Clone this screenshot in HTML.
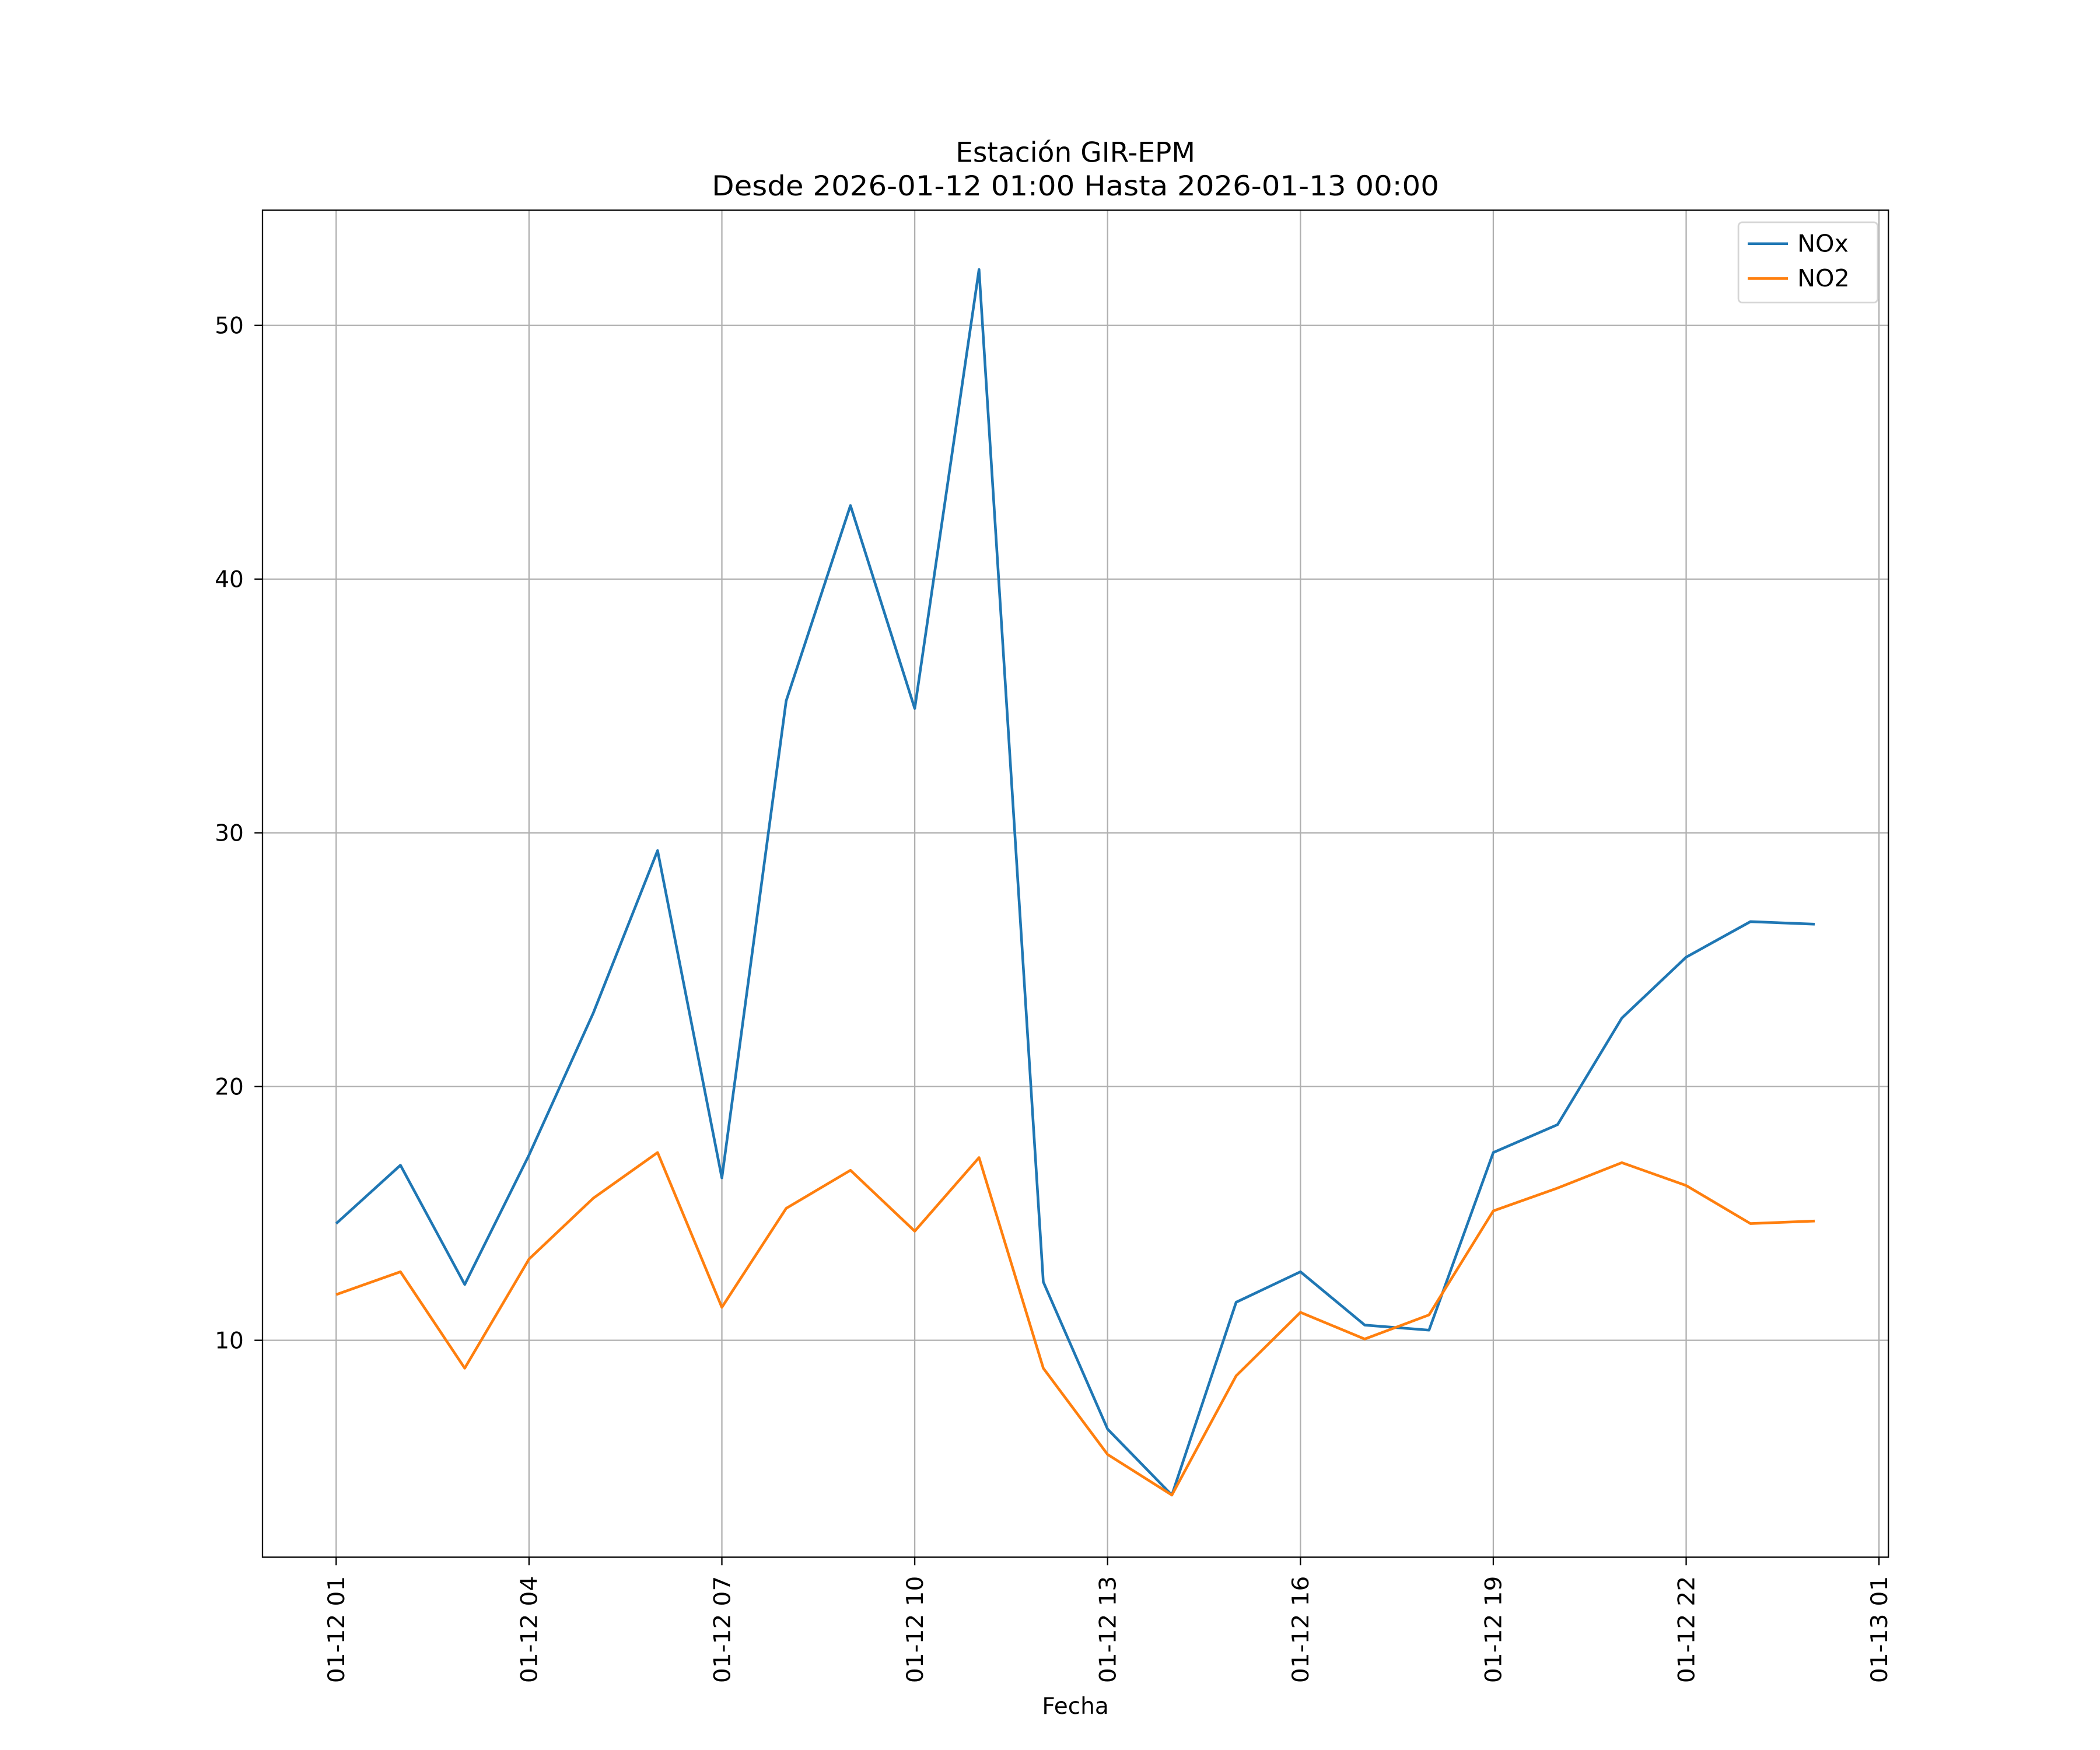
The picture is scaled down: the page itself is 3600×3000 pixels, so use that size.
<!DOCTYPE html>
<html><head><meta charset="utf-8"><style>
html,body{margin:0;padding:0;background:#fff}
svg{display:block}
text{font-family:"DejaVu Sans","Liberation Sans",sans-serif;fill:#000}
</style></head><body>
<svg id="chart" width="3600" height="3000" viewBox="0 0 1568 1307" preserveAspectRatio="none" xmlns="http://www.w3.org/2000/svg">
<rect width="1568" height="1307" fill="#fff"/>
<g id="grid"></g>
<g id="lines"></g>
<rect x="196" y="157" width="1214" height="1006" fill="none" stroke="#000" stroke-width="1"/>
<g id="ticks"></g>
<text x="803" y="121" font-size="20.5" text-anchor="middle">Estación GIR-EPM</text>
<text x="803" y="146" font-size="20.5" text-anchor="middle" textLength="543" lengthAdjust="spacingAndGlyphs">Desde 2026-01-12 01:00 Hasta 2026-01-13 00:00</text>
<text x="803" y="1280" font-size="17" text-anchor="middle">Fecha</text>
<g>
<rect x="1298" y="166" width="104" height="60" rx="3" fill="#fff" stroke="#d5d5d5" stroke-width="1.2"/>
<line x1="1305" y1="182" x2="1335" y2="182" stroke="#1f77b4" stroke-width="2"/>
<text x="1342" y="188" font-size="18">NOx</text>
<line x1="1305" y1="208" x2="1335" y2="208" stroke="#ff7f0e" stroke-width="2"/>
<text x="1342" y="214" font-size="18">NO2</text>
</g>
</svg>
<script>
const hours = [1,2,3,4,5,6,7,8,9,10,11,12,13,14,15,16,17,18,19,20,21,22,23,24];
const noxValues = [14.6,16.9,12.2,17.3,22.9,29.3,16.4,35.2,42.9,34.9,52.2,12.3,6.5,3.9,11.5,12.7,10.6,10.4,17.4,18.5,22.7,25.1,26.5,26.4];
const no2Values = [11.8,12.7,8.9,13.2,15.6,17.4,11.3,15.2,16.7,14.3,17.2,8.9,5.5,3.9,8.6,11.1,10.05,11.0,15.1,16.0,17.0,16.1,14.6,14.7];
const yTicks = [10,20,30,40,50];
const xTickHours = [1,4,7,10,13,16,19,22,25];
const xTickLabels = ["01-12 01","01-12 04","01-12 07","01-12 10","01-12 13","01-12 16","01-12 19","01-12 22","01-13 01"];

const NS="http://www.w3.org/2000/svg";
const xs = h => 251 + (h-1)*48;
const ys = v => 1001 - (v-10)*18.95;
function mk(tag, attrs, parent){const e=document.createElementNS(NS,tag);for(const k in attrs)e.setAttribute(k,attrs[k]);parent.appendChild(e);return e;}
const grid=document.getElementById('grid'), ticks=document.getElementById('ticks'), lines=document.getElementById('lines');
yTicks.forEach(v=>{
  const g=mk('line',{x1:196,x2:1410,y1:ys(v),y2:ys(v),stroke:'#b0b0b0','stroke-width':1},grid);
  
  
  const t=mk('line',{x1:190,x2:196,y1:ys(v),y2:ys(v),stroke:'#000'},ticks);
  
  
  const l=mk('text',{x:182,y:ys(v)+6,'font-size':17,'text-anchor':'end'},ticks);
  l.textContent=v;
  
  
});
xTickHours.forEach((h,i)=>{
  const x=xs(h);
  const g=mk('line',{x1:x,x2:x,y1:157,y2:1163,stroke:'#b0b0b0','stroke-width':1},grid);
  
  
  const t=mk('line',{x1:x,x2:x,y1:1163,y2:1169,stroke:'#000'},ticks);
  
  
  const l=mk('text',{x:0,y:0,'font-size':17,'text-anchor':'end',textLength:80,lengthAdjust:'spacingAndGlyphs',transform:`translate(${x+6},1177) rotate(-90)`},ticks);
  l.textContent=xTickLabels[i];
  
  
});
function series(vals,color,name){
  const p=mk('polyline',{points:vals.map((v,i)=>xs(hours[i])+','+ys(v)).join(' '),fill:'none',stroke:color,'stroke-width':2,'stroke-linejoin':'round'},lines);
  
  
}
series(noxValues,'#1f77b4','nox-line');
series(no2Values,'#ff7f0e','no2-line');
</script>
</body></html>
